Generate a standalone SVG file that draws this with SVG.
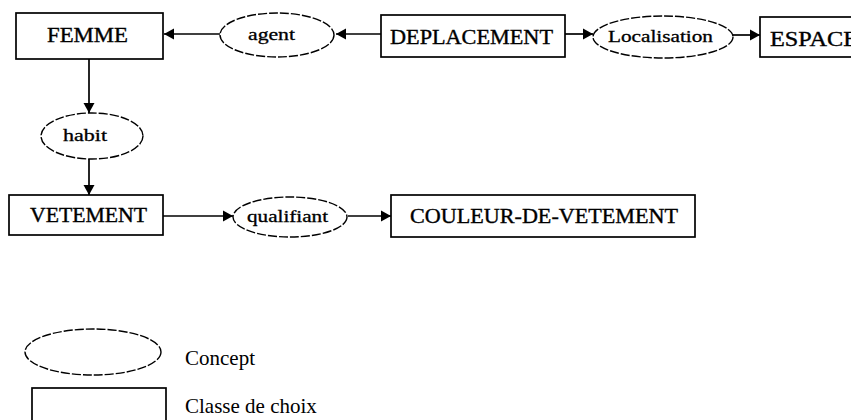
<svg xmlns="http://www.w3.org/2000/svg" width="851" height="420" viewBox="0 0 851 420">
<style>
.box{fill:#fff;stroke:#000;stroke-width:1.7}
.ell{fill:#fff;stroke:#000;stroke-width:1.4;stroke-dasharray:9 2}
.lbl{font-family:"Liberation Serif",serif;font-size:20px;fill:#000;stroke:#000;stroke-width:0.35}
.sm{font-family:"Liberation Serif",serif;font-size:16px;fill:#000;stroke:#000;stroke-width:0.3}
.leg{font-family:"Liberation Serif",serif;font-size:21px;fill:#000}
.con{stroke:#000;stroke-width:1.7;fill:none;marker-end:url(#ah)}
</style>
<defs>
<marker id="ah" markerUnits="userSpaceOnUse" markerWidth="12" markerHeight="12" refX="10" refY="6" orient="auto">
<path d="M0,0.5 L10,6 L0,11.5 Z" fill="#000"/>
</marker>
</defs>
<rect width="851" height="420" fill="#fff"/>
<g id="connectors">
<line class="con" x1="381" y1="34" x2="336" y2="34"/>
<line class="con" x1="220" y1="34" x2="164" y2="34"/>
<line class="con" x1="565" y1="34" x2="593" y2="34"/>
<line class="con" x1="733" y1="35" x2="760" y2="35"/>
<line class="con" x1="89" y1="59" x2="89" y2="113"/>
<line class="con" x1="89" y1="159" x2="89" y2="195"/>
<line class="con" x1="163" y1="216" x2="233" y2="216"/>
<line class="con" x1="348" y1="216" x2="391" y2="216"/>
</g>
<g id="femme">
<rect class="box" x="16" y="13" width="147" height="46"/>
<text class="lbl" x="47" y="42" textLength="81" lengthAdjust="spacingAndGlyphs">FEMME</text>
</g>
<g id="agent">
<ellipse class="ell" cx="277" cy="35" rx="57" ry="22"/>
<text class="sm" x="248" y="40" textLength="47" lengthAdjust="spacingAndGlyphs">agent</text>
</g>
<g id="deplacement">
<rect class="box" x="381" y="15" width="184" height="42"/>
<text class="lbl" x="390" y="44" textLength="163" lengthAdjust="spacingAndGlyphs">DEPLACEMENT</text>
</g>
<g id="localisation">
<ellipse class="ell" cx="663" cy="37" rx="70" ry="21"/>
<text class="sm" x="608" y="42" textLength="105" lengthAdjust="spacingAndGlyphs">Localisation</text>
</g>
<g id="espace">
<rect class="box" x="760" y="17" width="100" height="40"/>
<text class="lbl" x="770" y="46" textLength="88" lengthAdjust="spacingAndGlyphs">ESPACE</text>
</g>
<g id="habit">
<ellipse class="ell" cx="92" cy="136" rx="51" ry="23"/>
<text class="sm" x="63" y="141" textLength="44" lengthAdjust="spacingAndGlyphs">habit</text>
</g>
<g id="vetement">
<rect class="box" x="9" y="195" width="154" height="40"/>
<text class="lbl" x="30" y="222" textLength="117" lengthAdjust="spacingAndGlyphs">VETEMENT</text>
</g>
<g id="qualifiant">
<ellipse class="ell" cx="290" cy="217" rx="57" ry="20"/>
<text class="sm" x="247" y="222" textLength="81" lengthAdjust="spacingAndGlyphs">qualifiant</text>
</g>
<g id="couleur">
<rect class="box" x="391" y="195" width="304" height="42"/>
<text class="lbl" x="410" y="223" textLength="268" lengthAdjust="spacingAndGlyphs">COULEUR-DE-VETEMENT</text>
</g>
<g id="legend">
<ellipse class="ell" cx="93" cy="352" rx="68" ry="23"/>
<text class="leg" x="185" y="365">Concept</text>
<rect class="box" x="32" y="388" width="134" height="40"/>
<text class="leg" x="185" y="413">Classe de choix</text>
</g>
</svg>
